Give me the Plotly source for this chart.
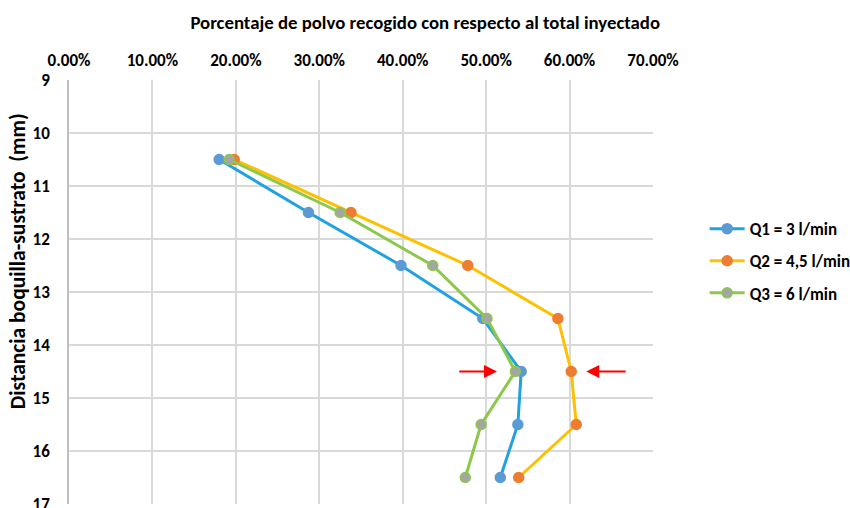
import plotly.graph_objects as go

# Distance nozzle-substrate (mm) and collected powder fraction (%) per flow rate
distancia = [10.5, 11.5, 12.5, 13.5, 14.5, 15.5, 16.5]
q1_pct = [18.0, 28.7, 39.8, 49.6, 54.2, 53.8, 51.7]
q2_pct = [19.8, 33.8, 47.8, 58.6, 60.2, 60.8, 53.9]
q3_pct = [19.2, 32.5, 43.6, 50.1, 53.5, 49.4, 47.5]

x_ticks = [0, 10, 20, 30, 40, 50, 60, 70]
x_tick_text = [f"{v:.2f}%" for v in x_ticks]
y_ticks = list(range(9, 18))

FONT = "Calibri, Carlito, 'Open Sans', Arial, sans-serif"

series = [
    ("Q1 = 3 l/min", q1_pct, "#1FA2DF", "#5B9BD5", "#5B9BD5"),
    ("Q2 = 4,5 l/min", q2_pct, "#FFC000", "#ED7D31", "#ED7D31"),
    ("Q3 = 6 l/min", q3_pct, "#8CC84B", "#A5A5A5", "#8CC84B"),
]

fig = go.Figure()
for name, vals, line_c, fill_c, edge_c in series:
    fig.add_trace(go.Scatter(
        x=vals, y=distancia, name=name, mode="lines+markers",
        legendgroup=name,
        line=dict(color=line_c, width=3),
        marker=dict(size=10, color=fill_c, line=dict(color=edge_c, width=1.5)),
    ))

# Red arrows marking the 14.5 mm distance
arrows = [(46.6, 51.3), (66.9, 62.0)]
for x0, x1 in arrows:
    fig.add_annotation(
        x=x1, y=14.5, ax=x0, ay=14.5, xref="x", yref="y", axref="x", ayref="y",
        showarrow=True, arrowhead=2, arrowsize=1.3, arrowwidth=2,
        arrowcolor="#FF0000", text="",
    )

# Vertical axis title, placed as a rotated annotation
fig.add_annotation(
    text="<b>Distancia boquilla-sustrato  (mm)</b>",
    xref="paper", yref="paper", x=-0.087, y=0.573,
    xanchor="center", yanchor="middle", textangle=-90, showarrow=False,
    font=dict(family=FONT, size=21.5, color="#000000"),
)

fig.update_layout(
    width=850, height=508,
    margin=dict(l=69, r=197, t=80, b=4),
    paper_bgcolor="white", plot_bgcolor="white",
    font=dict(family=FONT, size=17, color="#262626"),
    title=dict(
        text="<b>Porcentaje de polvo recogido con respecto al total inyectado</b>",
        x=0.61, xanchor="center", xref="paper", y=0.956, yanchor="middle",
        font=dict(family=FONT, size=18.8, color="#000000"),
    ),
    legend=dict(
        xref="container", yref="container",
        x=0.829, xanchor="left", y=0.486, yanchor="middle",
        font=dict(family=FONT, size=17, color="#000000", weight="bold"),
        tracegroupgap=7, traceorder="grouped", itemwidth=35,
        bgcolor="rgba(0,0,0,0)",
    ),
    showlegend=True,
)

fig.update_xaxes(
    side="top", range=[0, 70], tickvals=x_ticks, ticktext=x_tick_text,
    tickfont=dict(family=FONT, size=17, color="#000000", weight="bold"),
    showgrid=True, gridcolor="#D9D9D9", gridwidth=1.5,
    showline=False, zeroline=False, ticks="", ticklabelstandoff=10,
    automargin=False,
)
fig.update_yaxes(
    autorange=False, range=[17, 9], tickvals=y_ticks,
    tickfont=dict(family=FONT, size=17, color="#000000", weight="bold"),
    showgrid=True, gridcolor="#D9D9D9", gridwidth=1.5,
    showline=True, linecolor="#BFBFBF", linewidth=1.5,
    zeroline=False, ticks="", ticklabelstandoff=14, ticklabeloverflow="allow",
    automargin=False,
)

fig.write_html("out.html")
